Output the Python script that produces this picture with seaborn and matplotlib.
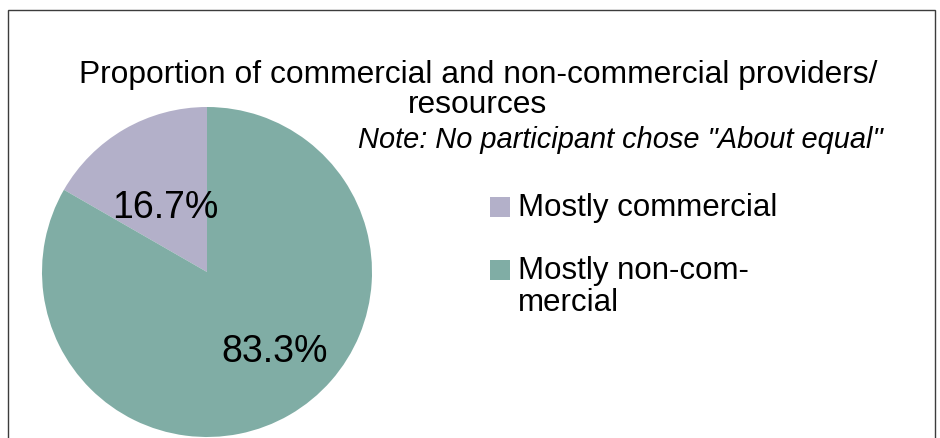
import matplotlib
matplotlib.use("Agg")
import matplotlib.pyplot as plt
from matplotlib.patches import Rectangle
import seaborn as sns

# Survey answers: share of providers/resources used
categories = ["Mostly commercial", "Mostly non-commercial"]
legend_labels = ["Mostly commercial", "Mostly non-com-\nmercial"]
shares = [16.7, 83.3]
colors = ["#b3b0c9", "#80ada5"]

title = "Proportion of commercial and non-commercial providers/\nresources"
note = 'Note: No participant chose "About equal"'

sns.set_theme(style="white")
plt.rcParams["font.family"] = ["Liberation Sans", "DejaVu Sans"]
plt.rcParams["text.color"] = "black"

W, H = 940, 438
fig = plt.figure(figsize=(W / 100, H / 100), dpi=100)

# Outer frame of the chart area
fig.patches.append(Rectangle((8 / W, -0.05), 927 / W, (H - 10) / H + 0.05,
                             transform=fig.transFigure, fill=False,
                             edgecolor="#3c3c3c", linewidth=1.0))

# Pie axes placed so the circle sits at the lower left
r = 165
cx, cy = 207, H - 272
ax = fig.add_axes([(cx - r) / W, (cy - r) / H, 2 * r / W, 2 * r / H])
wedges, _, autotexts = ax.pie(
    shares, colors=colors, startangle=90, counterclock=True,
    autopct=lambda p: f"{p:.1f}%", pctdistance=0.5,
    wedgeprops=dict(linewidth=0),
    textprops=dict(fontsize=27, color="black"),
)
ax.set_xlim(-1, 1)
ax.set_ylim(-1, 1)
ax.set_aspect("equal")
ax.axis("off")

# Fine placement of the percentage labels inside their wedges
autotexts[0].set_position((-0.25, 0.39))
autotexts[1].set_position((0.41, -0.485))

fig.text(478 / W, 1 - 90 / H, title, ha="center", va="center",
         fontsize=22.9, linespacing=1.0, color="black")
fig.text(620 / W, 1 - 140 / H, note, ha="center", va="center",
         fontsize=20.9, style="italic", color="black")

# Legend entries: colour square plus label
leg_y = [207, 270]
for lab, col, y in zip(legend_labels, colors, leg_y):
    fig.patches.append(Rectangle((490 / W, 1 - (y + 10) / H), 20 / W, 20 / H,
                                 transform=fig.transFigure, facecolor=col,
                                 edgecolor="none"))
    fig.text(518 / W, 1 - (y - 14) / H, lab, ha="left", va="top",
             fontsize=22.5, linespacing=1.1, color="black")

fig.savefig("out.png", dpi=100, facecolor="white")
